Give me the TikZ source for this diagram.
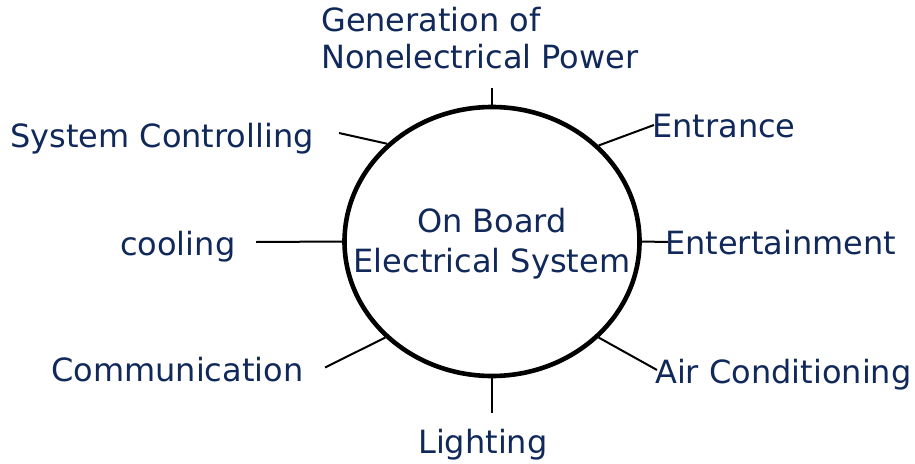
\documentclass[tikz,border=0pt]{standalone}
\usepackage{fontspec}
\setmainfont{DejaVu Sans}
\usetikzlibrary{shapes.geometric}
\definecolor{navy}{RGB}{16,40,90}
\begin{document}
\begin{tikzpicture}[x=1pt,y=-1pt,
  lbl/.style={font=\fontsize{32}{37}\selectfont, text=navy, inner sep=0pt},
  conn/.style={line width=2pt, black}]
\useasboundingbox (0,0) rectangle (915,463);
\node[ellipse, draw, line width=4.6pt, minimum width=295pt, minimum height=269pt, inner sep=0pt] (c) at (492,241.5) {};
\node[lbl, align=center, anchor=base, font=\fontsize{32}{40}\selectfont] (title) at (492,272) {On Board\\Electrical System};
\node[lbl, anchor=base west, align=left] (gen) at (321,68) {Generation of\\Nonelectrical Power};
\node[lbl, anchor=base west] (sys) at (10,147) {System Controlling};
\node[lbl, anchor=base west] (cool) at (120,255) {cooling};
\node[lbl, anchor=base west] (comm) at (51,381) {Communication};
\node[lbl, anchor=base west] (ent) at (652,137) {Entrance};
\node[lbl, anchor=base west] (entt) at (665,254) {Entertainment};
\node[lbl, anchor=base west] (air) at (655,383) {Air Conditioning};
\node[lbl, anchor=base west] (light) at (418,453) {Lighting};
\coordinate (pgen) at (492,88);
\coordinate (psys) at (339,133);
\coordinate (pcool) at (256,242);
\coordinate (pcomm) at (325,367.5);
\coordinate (pent) at (654,125);
\coordinate (pentt) at (668,242);
\coordinate (pair) at (657,370);
\coordinate (plight) at (492,413);
\draw[conn] (c.90) -- (pgen);
\draw[conn] (c.137.8) -- (psys);
\draw[conn] (c.180) -- (pcool);
\draw[conn] (c.222) -- (pcomm);
\draw[conn] (c.42.6) -- (pent);
\draw[conn] (c.0) -- (pentt);
\draw[conn] (c.-42) -- (pair);
\draw[conn] (c.270) -- (plight);
\end{tikzpicture}
\end{document}
